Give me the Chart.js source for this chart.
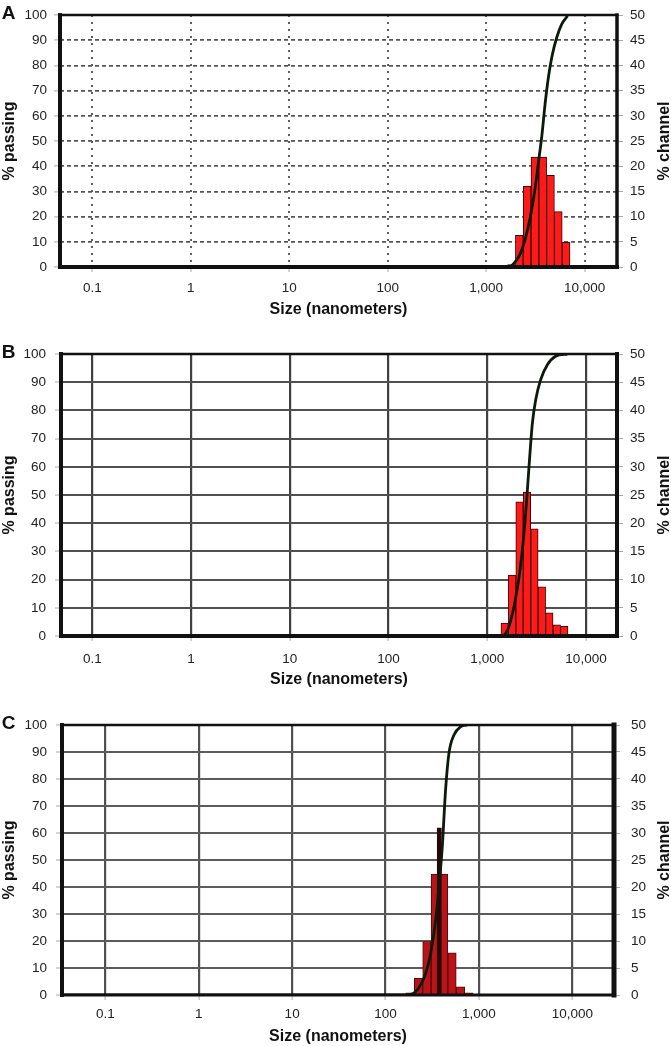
<!DOCTYPE html>
<html><head><meta charset="utf-8">
<script src="https://cdn.jsdelivr.net/npm/chart.js@4.4.1/dist/chart.umd.min.js"></script>
<style>
html,body{margin:0;padding:0;background:#fff;}
#wrap{position:relative;width:671px;height:1046px;overflow:hidden;background:#fff;}
canvas{position:absolute;left:0;}
</style></head><body>
<div id="wrap">
<canvas id="cA" width="671" height="330" style="top:0px"></canvas>
<canvas id="cB" width="671" height="360" style="top:335px"></canvas>
<canvas id="cC" width="671" height="346" style="top:700px"></canvas>
</div>
<script>
// ---------- data ----------
const sizeTicks = [0.1, 1, 10, 100, 1000, 10000];
const sizeTickLabels = ['0.1', '1', '10', '100', '1,000', '10,000'];
const xTitle = 'Size (nanometers)';
const leftTitle = '% passing';
const rightTitle = '% channel';

// Panel A
const aChannelSize = [1808, 2170, 2604, 3125, 3750, 4500, 5400, 6480];
const aChannelPct  = [0.5, 6.3, 16.0, 21.8, 21.8, 18.2, 11.0, 4.9];
const aCumSize     = [0.05, 1690, 1970, 2213, 2488, 2798, 3143, 3398, 3673, 3972, 4294, 4643, 5222, 5868, 6700];
const aCumPassing  = [0, 0, 2, 5.2, 11, 19.6, 31.3, 41.7, 52, 65, 75.6, 83.4, 91.3, 96.5, 99.7];

// Panel B
const bChannelSize = [1500, 1784, 2122, 2524, 3003, 3574, 4253, 5061, 6023];
const bChannelPct  = [2.3, 10.8, 23.8, 25.5, 19.0, 8.7, 4.1, 2.0, 1.7];
const bCumSize     = [0.05, 1387, 1595, 1793, 1968, 2143, 2317, 2505, 2646, 2862, 3091, 3474, 4061, 4930, 6486];
const bCumPassing  = [0, 0, 1.8, 7.7, 14.8, 23.2, 33.8, 48.1, 60, 75.4, 83.7, 90.9, 96.2, 99.2, 100];

// Panel C
const cChannelSize = [183, 225, 277, 341, 419, 515, 634, 780];
const cChannelPct  = [0.4, 3.1, 9.9, 22.4, 22.4, 7.8, 1.5, 0.4];
const cSpikeSize   = [376];
const cSpikePct    = [30.9];
const cCumSize     = [0.035, 171, 219, 269, 304, 344, 373, 405, 439, 477, 540, 637, 750, 6368];
const cCumPassing  = [0, 0, 1.9, 8, 15.4, 27.8, 40.1, 54.9, 75.9, 89.5, 96.3, 99.4, 100, 100];

// ---------- chart setup ----------
Chart.defaults.font.family = "'Liberation Sans', Arial, Helvetica, sans-serif";
Chart.defaults.color = '#1a1a1a';
const tickFont = {size: 13.5};
const titleFont = {size: 16, weight: 'bold', lineHeight: 1.2};

const decorPlugin = {
  id: 'decor',
  afterDatasetsDraw(chart, args, o) {
    const {ctx} = chart;
    const {left, right, top, bottom} = chart.chartArea;
    ctx.save();
    ctx.strokeStyle = '#111';
    ctx.lineCap = 'square';
    const seg = (x1, y1, x2, y2, w) => { ctx.lineWidth = w; ctx.beginPath(); ctx.moveTo(x1, y1); ctx.lineTo(x2, y2); ctx.stroke(); };
    seg(left, top, right, top, o.frame[0]);
    seg(right, top, right, bottom, o.frame[1]);
    seg(left, bottom, right, bottom, o.frame[2]);
    seg(left, top, left, bottom, o.frame[3]);
    ctx.restore();
  },
  afterDraw(chart, args, o) {
    const {ctx} = chart;
    const {top, bottom} = chart.chartArea;
    ctx.save();
    ctx.fillStyle = '#111';
    ctx.font = "bold 16px 'Liberation Sans', Arial, sans-serif";
    ctx.textAlign = 'center';
    ctx.textBaseline = 'middle';
    ctx.translate(chart.width - 6.5, (top + bottom) / 2);
    ctx.rotate(-Math.PI / 2);
    ctx.fillText(o.rightTitle, 0, 0);
    ctx.restore();
    ctx.save();
    ctx.fillStyle = '#111';
    ctx.font = "bold 19px 'Liberation Sans', Arial, sans-serif";
    ctx.textAlign = 'center';
    ctx.textBaseline = 'middle';
    ctx.fillText(o.letter, 8.5, top - 1.5);
    ctx.restore();
  }
};

function buildPanel(id, p) {
  const datasets = [
    {
      type: 'line', label: leftTitle,
      data: p.cumSize.map((x, i) => ({x, y: p.cumPassing[i]})),
      xAxisID: 'x', yAxisID: 'y',
      borderColor: '#0c1a0c', borderWidth: 2.8, pointRadius: 0,
      cubicInterpolationMode: 'monotone', fill: false, order: 0,
      segment: {
        borderColor: c => (c.p0.parsed.y >= 99.95 && c.p1.parsed.y >= 99.95) ? '#3f9a3f' : undefined,
        borderWidth: c => (c.p0.parsed.y >= 99.95 && c.p1.parsed.y >= 99.95) ? 1.5 : undefined
      }
    },
    {
      type: 'bar', label: rightTitle,
      data: p.chanSize.map((x, i) => ({x, y: p.chanPct[i]})),
      xAxisID: 'x', yAxisID: 'y1',
      backgroundColor: p.barColor, borderColor: p.barEdge, borderWidth: 1,
      barPercentage: 1, categoryPercentage: 1, grouped: false, order: 2
    }
  ];
  if (p.spikeSize) {
    datasets.push({
      type: 'bar', label: 'spike',
      data: p.spikeSize.map((x, i) => ({x, y: p.spikePct[i]})),
      xAxisID: 'x2', yAxisID: 'y1',
      backgroundColor: '#2a0505', borderWidth: 0, barThickness: 4, grouped: false, order: 1
    });
  }
  const scales = {
    x: {
      type: 'logarithmic', position: 'bottom', min: p.xMin, max: p.xMax, offset: false,
      afterBuildTicks: s => { s.ticks = sizeTicks.map(v => ({value: v, major: true})); },
      afterFit: s => { s.height = p.xAxisH; },
      ticks: {autoSkip: false, maxRotation: 0, minRotation: 0, padding: p.xTickPad, font: tickFont, color: '#222',
              callback: v => sizeTickLabels[sizeTicks.indexOf(v)]},
      grid: {color: p.xGridColor, lineWidth: p.xGridW, offset: false, drawTicks: true, tickLength: 5, tickColor: '#aaa', tickWidth: 1},
      border: {display: false, dash: p.xDash},
      title: {display: true, text: xTitle, font: titleFont, color: '#111', padding: {top: 0, bottom: p.xTitlePad}}
    },
    y: {
      type: 'linear', position: 'left', min: 0, max: 100,
      afterFit: s => { s.width = p.leftW; },
      ticks: {stepSize: 10, padding: p.leftTickPad, font: tickFont, color: '#222'},
      grid: {color: p.yGridColor, lineWidth: p.yGridW, drawTicks: true, tickLength: 6, tickColor: '#aaa', tickWidth: 1},
      border: {display: false, dash: p.yDash},
      title: {display: true, text: leftTitle, font: titleFont, color: '#111', padding: {top: 0, bottom: 0}}
    },
    y1: {
      type: 'linear', position: 'right', min: 0, max: 50,
      afterFit: s => { s.width = p.rightW; },
      ticks: {stepSize: 5, padding: p.rightTickPad, font: tickFont, color: '#222'},
      grid: {drawOnChartArea: false, drawTicks: true, tickLength: 6, tickColor: '#aaa', tickWidth: 1},
      border: {display: false}
    }
  };
  if (p.spikeSize) {
    scales.x2 = {type: 'logarithmic', display: false, min: p.xMin, max: p.xMax, offset: false};
  }
  return new Chart(document.getElementById(id), {
    type: 'line',
    data: {datasets},
    options: {
      responsive: false, animation: false, devicePixelRatio: 1,
      layout: {padding: {top: p.padTop, left: 0, right: 0, bottom: 0}},
      plugins: {legend: {display: false}, tooltip: {enabled: false},
                decor: {frame: p.frame, letter: p.letter, rightTitle: rightTitle}},
      scales
    },
    plugins: [decorPlugin]
  });
}

buildPanel('cA', {
  letter: 'A', cumSize: aCumSize, cumPassing: aCumPassing, chanSize: aChannelSize, chanPct: aChannelPct,
  barColor: '#ff1a1a', barEdge: '#3a0000',
  xMin: 0.047, xMax: 21300, padTop: 10, xAxisH: 63, xTickPad: 8, xTitlePad: 10.4,
  leftW: 60, rightW: 54, leftTickPad: 7, rightTickPad: 7,
  xGridColor: '#5e5e5e', xGridW: 2, xDash: [2, 5],
  yGridColor: '#555555', yGridW: 1.8, yDash: [4, 3],
  frame: [2.5, 3.5, 4, 4]
});
buildPanel('cB', {
  letter: 'B', cumSize: bCumSize, cumPassing: bCumPassing, chanSize: bChannelSize, chanPct: bChannelPct,
  barColor: '#ff1a1a', barEdge: '#3a0000',
  xMin: 0.0482, xMax: 20600, padTop: 19, xAxisH: 59, xTickPad: 10, xTitlePad: 5.4,
  leftW: 61, rightW: 54, leftTickPad: 9, rightTickPad: 7,
  xGridColor: '#404040', xGridW: 2.2, xDash: [],
  yGridColor: '#505050', yGridW: 2, yDash: [],
  frame: [2.5, 4, 4, 4]
});
buildPanel('cC', {
  letter: 'C', cumSize: cCumSize, cumPassing: cCumPassing, chanSize: cChannelSize, chanPct: cChannelPct,
  spikeSize: cSpikeSize, spikePct: cSpikePct,
  barColor: '#b8141a', barEdge: '#550505',
  xMin: 0.0344, xMax: 27900, padTop: 25, xAxisH: 51, xTickPad: 6, xTitlePad: 0,
  leftW: 62, rightW: 57, leftTickPad: 9, rightTickPad: 11,
  xGridColor: '#505050', xGridW: 2.2, xDash: [],
  yGridColor: '#5c5c5c', yGridW: 2, yDash: [],
  frame: [2.5, 5, 3, 4]
});
</script>
</body></html>
